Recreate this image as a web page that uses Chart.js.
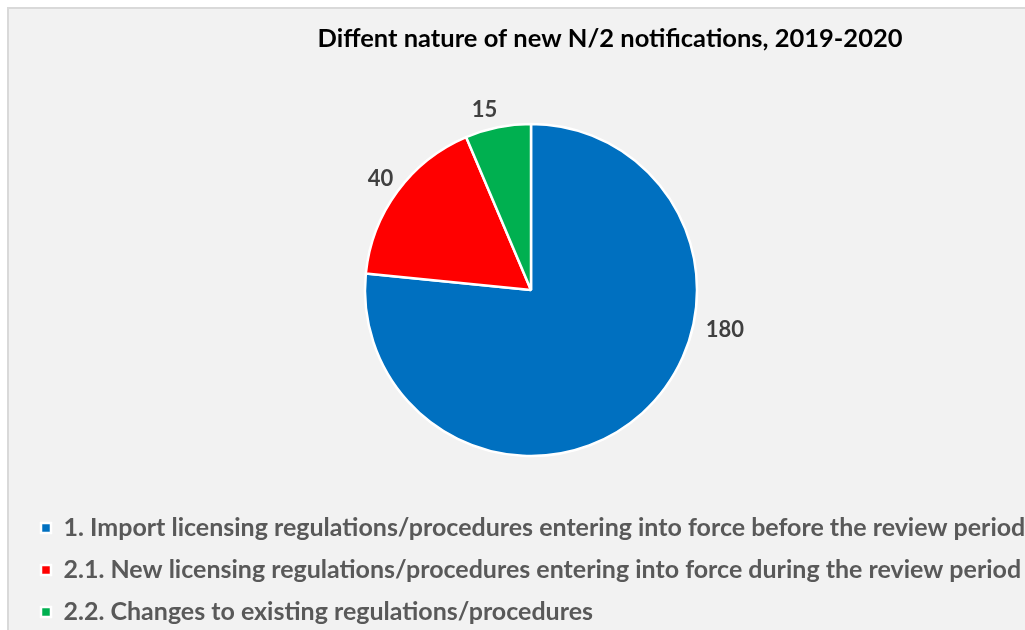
<!DOCTYPE html>
<html>
<head>
<meta charset="utf-8">
<script src="https://cdn.jsdelivr.net/npm/chart.js@4"></script>
<style>
  html, body { margin: 0; padding: 0; overflow: hidden; background: #fff; }
  body { width: 1025px; height: 630px; position: relative; }
  /* grey plot panel, runs off the right and bottom edges like the screenshot */
  #panel {
    position: absolute; left: 7px; top: 7px; width: 1100px; height: 700px;
    background: #f2f2f2; border: 2px solid #d9d9d9; box-sizing: border-box;
  }
  #wrap { position: absolute; left: 0; top: 0; width: 1062px; height: 630px; }
</style>
</head>
<body>
<div id="panel"></div>
<div id="wrap"><canvas id="pie"></canvas></div>
<script>
const TITLE = 'Diffent nature of new N/2 notifications, 2019-2020';
const LABELS = [
  '1. Import licensing regulations/procedures entering into force before the review period',
  '2.1. New licensing regulations/procedures entering into force during the review period',
  '2.2. Changes to existing regulations/procedures'
];
const VALUES = [180, 40, 15];
const COLORS = ['#0070c0', '#ff0000', '#00b050'];

const FONT = 'Lato, "Open Sans", sans-serif';

// Excel's "best fit" nudges labels off the mid-angle;
// per-slice override (degrees, canvas convention) or null = mid-angle
const LABEL_PLACE = [{ angle: 11.7, gap: 32 }, null, { angle: 255.5, gap: 20 }];

// title drawn by hand: Excel centres it on the panel, not on the pie
const titlePlugin = {
  id: 'panelTitle',
  afterDraw(chart, args, o) {
    const ctx = chart.ctx;
    ctx.save();
    ctx.font = `bold ${o.size}px ${FONT}`;
    ctx.fillStyle = o.color;
    ctx.textAlign = 'center';
    ctx.textBaseline = 'middle';
    ctx.fillText(o.text, o.x, o.y);
    ctx.restore();
  }
};

// value labels outside the slices
const valueLabels = {
  id: 'valueLabels',
  afterDatasetsDraw(chart, args, o) {
    const ctx = chart.ctx;
    const meta = chart.getDatasetMeta(0);
    ctx.save();
    ctx.font = `bold ${o.size}px ${FONT}`;
    ctx.fillStyle = o.color;
    ctx.textAlign = 'center';
    ctx.textBaseline = 'middle';
    meta.data.forEach((arc, i) => {
      const p = arc.getProps(['x', 'y', 'startAngle', 'endAngle', 'outerRadius'], true);
      const fix = LABEL_PLACE[i];
      const a = fix ? fix.angle * Math.PI / 180 : (p.startAngle + p.endAngle) / 2;
      const d = p.outerRadius + (fix ? fix.gap : o.gap);
      ctx.fillText(String(VALUES[i]), p.x + Math.cos(a) * d, p.y + Math.sin(a) * d);
    });
    ctx.restore();
  }
};

new Chart(document.getElementById('pie'), {
  type: 'pie',
  data: {
    labels: LABELS,
    datasets: [{
      data: VALUES,
      backgroundColor: COLORS,
      borderColor: '#ffffff',
      borderWidth: 2.5,
      radius: 166
    }]
  },
  options: {
    responsive: true, maintainAspectRatio: false, animation: false,
    layout: { padding: { left: 24, right: 24, top: 81.5, bottom: -4.5 } },
    plugins: {
      legend: {
        position: 'bottom', align: 'start',
        labels: {
          boxWidth: 10, boxHeight: 10, padding: 17, color: '#595959',
          font: { family: FONT, size: 25, weight: 'bold' }
        }
      },
      tooltip: { enabled: false },
      panelTitle: { text: TITLE, x: 610, y: 39, size: 25.5, color: '#000000' },
      valueLabels: { size: 22, color: '#404040', gap: 21 }
    }
  },
  plugins: [titlePlugin, valueLabels]
});
</script>
</body>
</html>
